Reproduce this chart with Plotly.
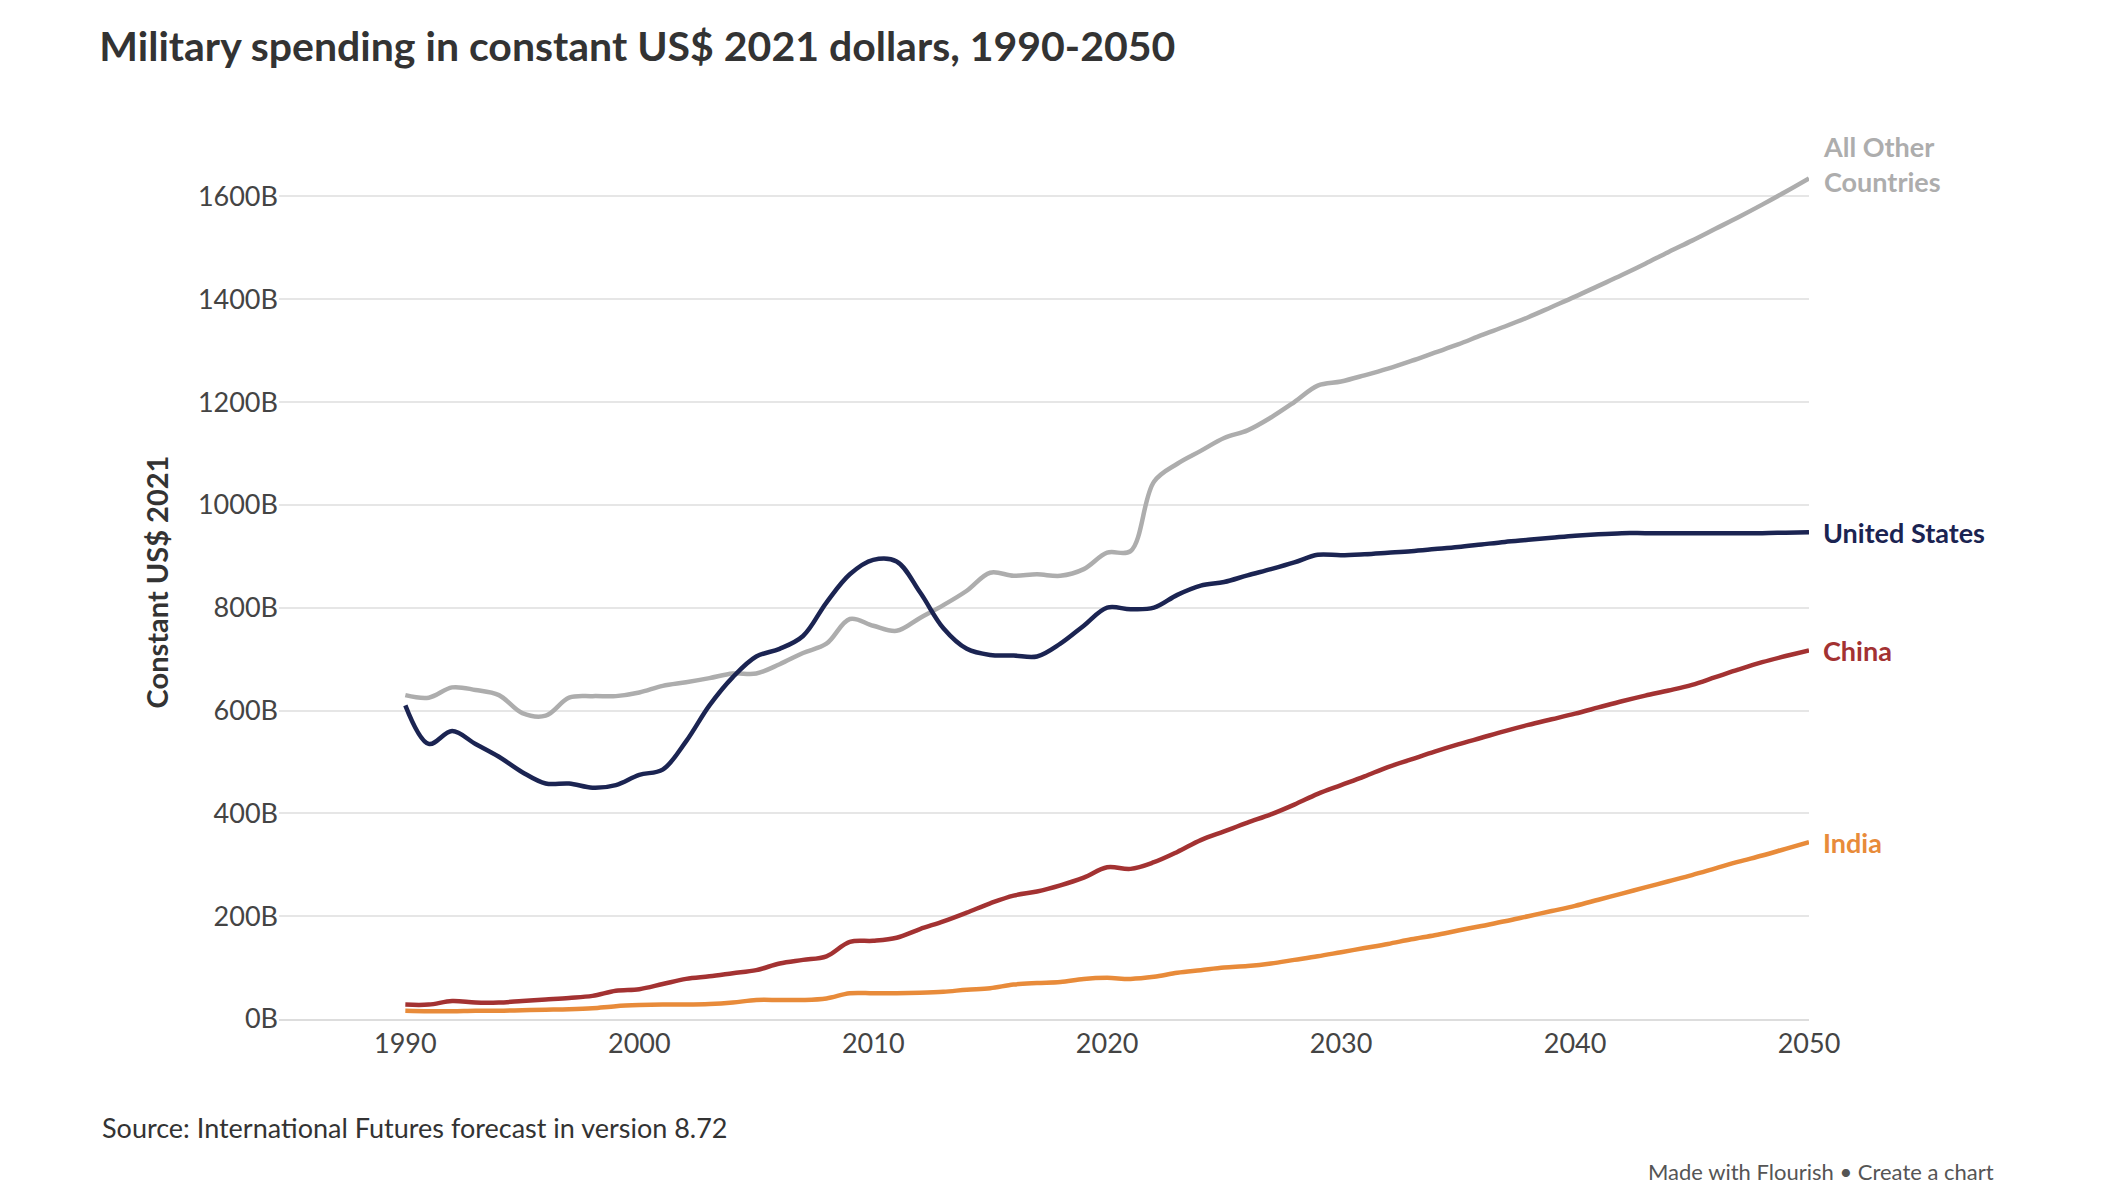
import plotly.graph_objects as go

years = list(range(1990, 2051))

united_states = [610, 535, 560, 535, 510, 480, 458, 458, 450, 455, 475, 485, 540, 610, 665, 705, 720, 745, 810, 865,
                 893, 890, 830, 760, 720, 708, 707, 705, 730, 765, 800, 797, 800, 825, 843, 850, 863, 875, 888, 903,
                 902, 904, 907, 910, 914, 918, 923, 928, 932, 936, 940, 943, 945, 945, 945, 945, 945, 945, 945, 946, 947]
all_other = [630, 625, 645, 640, 630, 595, 590, 625, 628, 628, 635, 648, 655, 663, 672, 672, 690, 712, 730, 778,
             765, 755, 780, 805, 833, 868, 862, 865, 862, 875, 907, 910, 1045, 1080, 1105, 1130, 1145, 1170, 1200, 1232,
             1240, 1252, 1265, 1280, 1296, 1312, 1330, 1347, 1365, 1385, 1405, 1426, 1447, 1469, 1492, 1514, 1537, 1560, 1584, 1609, 1635]
china = [28, 28, 35, 32, 32, 35, 38, 41, 45, 55, 58, 68, 78, 83, 89, 95, 108, 115, 122, 150,
         152, 158, 175, 190, 207, 225, 240, 248, 260, 275, 295, 292, 305, 325, 348, 365, 382, 398, 417, 438,
         455, 472, 490, 505, 520, 534, 547, 560, 572, 583, 594, 606, 618, 629, 639, 650, 665, 680, 694, 706, 717]
india = [16, 15, 15, 16, 16, 17, 18, 19, 21, 25, 27, 28, 28, 29, 32, 37, 37, 37, 40, 50,
         50, 50, 51, 53, 57, 60, 67, 70, 72, 78, 80, 78, 82, 90, 95, 100, 103, 108, 115, 122,
         130, 138, 146, 155, 163, 172, 181, 190, 200, 210, 220, 232, 244, 256, 268, 280, 293, 306, 318, 331, 344]

series = [
    ("All Other<br>Countries", all_other, "#adadad"),
    ("United States", united_states, "#1b2452"),
    ("China", china, "#a33232"),
    ("India", india, "#e88b3a"),
]

FONT = "Source Sans Pro, Lato, sans-serif"
fig = go.Figure()
annotations = []
for name, vals, color in series:
    fig.add_trace(go.Scatter(x=years, y=vals, mode="lines", name=name,
                             line=dict(color=color, width=4.5, shape="spline"),
                             hovertemplate="%{y}B<extra></extra>"))
    annotations.append(dict(x=years[-1], y=vals[-1], xref="x", yref="y", text="<b>" + name + "</b>",
                            xanchor="left", yanchor="bottom" if "<br>" in name else "middle",
                            xshift=12, yshift=-22 if "<br>" in name else 0, showarrow=False,
                            align="left", font=dict(family=FONT, size=27, color=color)))

annotations.append(dict(x=-0.117, y=-0.124, xref="paper", yref="paper", xanchor="left", yanchor="middle",
                        text="Source: International Futures forecast in version 8.72",
                        showarrow=False, font=dict(family=FONT, size=27, color="#333")))
annotations.append(dict(x=1.122, y=-0.174, xref="paper", yref="paper", xanchor="right", yanchor="middle",
                        text="Made with Flourish • Create a chart", showarrow=False,
                        font=dict(family=FONT, size=22, color="#555")))
fig.update_layout(
    width=2124, height=1204,
    paper_bgcolor="white", plot_bgcolor="white",
    showlegend=False,
    margin=dict(l=271, r=323, t=137, b=193),
    title=dict(text="<b>Military spending in constant US$ 2021 dollars, 1990-2050</b>",
               x=0.043, xref="container", xanchor="left", y=0.968, yanchor="middle",
               font=dict(family=FONT, size=41, color="#333")),
    annotations=annotations,
    xaxis=dict(range=[1984.6, 2050], tickvals=list(range(1990, 2051, 10)), showgrid=False,
               showline=True, linecolor="#ddd", linewidth=2, ticks="",
               tickfont=dict(family=FONT, size=27, color="#444")),
    yaxis=dict(range=[0, 1700], tickvals=list(range(0, 1601, 200)),
               ticktext=[f"{v}B" for v in range(0, 1601, 200)],
               gridcolor="#e6e6e6", gridwidth=2, zeroline=False, ticks="",
               title=dict(text="<b>Constant US$ 2021</b>", font=dict(family=FONT, size=29, color="#333"), standoff=20),
               tickfont=dict(family=FONT, size=27, color="#444")),
)
fig.write_html("out.html")
